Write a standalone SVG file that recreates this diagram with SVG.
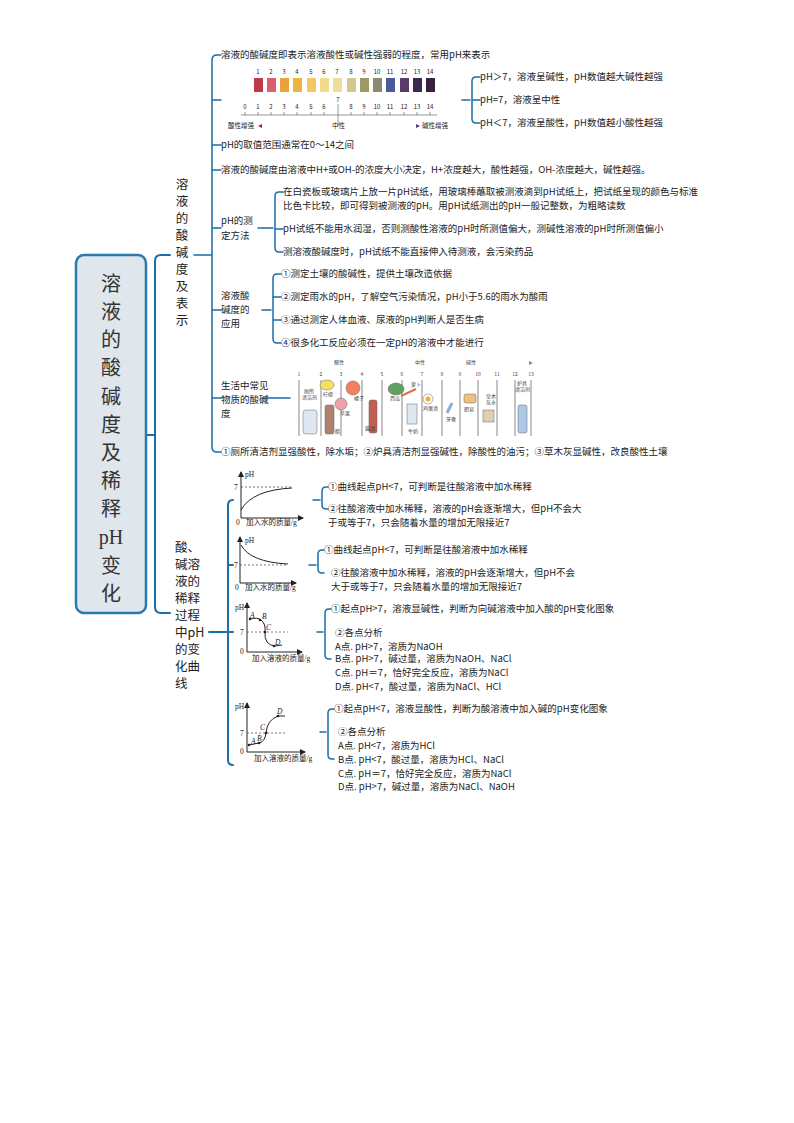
<svg xmlns="http://www.w3.org/2000/svg" width="794" height="1123" viewBox="0 0 794 1123">
<style>
text{font-family:"Noto Sans CJK SC","Liberation Sans",sans-serif;fill:#222;font-size:9.5px}
.b{fill:none;stroke:#1b6ea8;stroke-width:2;stroke-linecap:round}
.s{fill:none;stroke:#1b6ea8;stroke-width:1.5;stroke-linecap:round}
.ax{fill:none;stroke:#222;stroke-width:1}
.dash{stroke:#444;stroke-width:0.7;stroke-dasharray:2 2}
.g{font-family:"Liberation Serif","Noto Sans CJK SC",serif;font-size:7.5px}
.gi{font-family:"Liberation Serif",serif;font-size:7.5px;font-style:italic}
.t{font-size:5px;fill:#444}
.n6{font-size:6px}
.root{font-size:20px;fill:#333;text-anchor:middle}
.br{font-size:12.5px;fill:#222}
</style>
<defs>
<marker id="ar" markerWidth="6" markerHeight="6" refX="5" refY="3" orient="auto"><path d="M0,0L6,3L0,6z" fill="#222"/></marker>
<linearGradient id="rb" x1="0" x2="1"><stop offset="0" stop-color="#e86a50"/><stop offset="0.35" stop-color="#e8d060"/><stop offset="0.6" stop-color="#60b070"/><stop offset="1" stop-color="#9a70c0"/></linearGradient>
<linearGradient id="ab" x1="0" x2="1"><stop offset="0" stop-color="#a02030"/><stop offset="0.5" stop-color="#8080a0"/><stop offset="1" stop-color="#5a3a8a"/></linearGradient>
</defs>

<g id="connectors">
<path class="b" d="M146,435H155M170,255H161Q155,255 155,261V607Q155,613 161,613H170"/>
<path class="s" d="M194,255H212M221,55H217Q212,55 212,60V447Q212,452 217,452H221M212,100H221M212,145H221M212,170H221M212,228H221M212,310H221M212,398H221"/>
<path class="s" d="M462,100H470M480,77H476Q472,77 472,81V119Q472,123 476,123H480M472,100H480"/>
<path class="s" d="M258,228H273M283,192H279Q275,192 275,196V248Q275,252 279,252H283M275,229H283"/>
<path class="s" d="M262,310H271M281,274H277Q273,274 273,278V339Q273,343 277,343H281M273,297H281M273,320H281"/>
<path class="s" d="M262,398H290"/>
<path class="b" d="M209,632H228M233,500H233Q228,500 228,505V760Q228,765 233,765M228,565H233M228,632H233"/>
<path class="s" d="M313,500H320M328,487H326Q322,487 322,491V505Q322,509 326,509H328"/>
<path class="s" d="M309,565H316M324,550H322Q318,550 318,554V569Q318,573 322,573H324"/>
<path class="s" d="M317,632H323M331,609H329Q325,609 325,613V655Q325,659 329,659H331"/>
<path class="s" d="M320,732H326M334,709H332Q328,709 328,713V755Q328,759 332,759H334"/>
</g>

<g id="root">
<rect x="76" y="255" width="70" height="358" rx="8" fill="#dfe6ec" stroke="#2a7ab0" stroke-width="2.5"/>
<text class="root" x="111" y="291">溶</text>
<text class="root" x="111" y="319">液</text>
<text class="root" x="111" y="347">的</text>
<text class="root" x="111" y="375">酸</text>
<text class="root" x="111" y="404">碱</text>
<text class="root" x="111" y="432">度</text>
<text class="root" x="111" y="460">及</text>
<text class="root" x="111" y="488">稀</text>
<text class="root" x="111" y="516">释</text>
<text class="root" x="111" y="544" style="font-family:'Liberation Serif',serif">pH</text>
<text class="root" x="111" y="573">变</text>
<text class="root" x="111" y="601">化</text>
</g>

<g id="branch1">
<text class="br" x="182" y="189" text-anchor="middle">溶</text>
<text class="br" x="182" y="206" text-anchor="middle">液</text>
<text class="br" x="182" y="223" text-anchor="middle">的</text>
<text class="br" x="182" y="240" text-anchor="middle">酸</text>
<text class="br" x="182" y="257" text-anchor="middle">碱</text>
<text class="br" x="182" y="274" text-anchor="middle">度</text>
<text class="br" x="182" y="291" text-anchor="middle">及</text>
<text class="br" x="182" y="308" text-anchor="middle">表</text>
<text class="br" x="182" y="325" text-anchor="middle">示</text>
</g>

<g id="b1n1"><text x="221" y="58">溶液的酸碱度即表示溶液酸性或碱性强弱的程度，常用pH来表示</text></g>

<g id="b1scale">
<g text-anchor="middle">
<text class="n6" x="258" y="74">1</text><text class="n6" x="271" y="74">2</text><text class="n6" x="284" y="74">3</text><text class="n6" x="297" y="74">4</text><text class="n6" x="311" y="74">5</text><text class="n6" x="324" y="74">6</text><text class="n6" x="337" y="74">7</text><text class="n6" x="351" y="74">8</text><text class="n6" x="364" y="74">9</text><text class="n6" x="377" y="74">10</text><text class="n6" x="390" y="74">11</text><text class="n6" x="404" y="74">12</text><text class="n6" x="417" y="74">13</text><text class="n6" x="430" y="74">14</text>
</g>
<rect x="254" y="78" width="9" height="14" fill="#c0384a"/><rect x="267" y="78" width="9" height="14" fill="#d9606e"/><rect x="280" y="78" width="9" height="14" fill="#e9a23c"/><rect x="293" y="78" width="9" height="14" fill="#efb43a"/><rect x="307" y="78" width="9" height="14" fill="#f3c862"/><rect x="320" y="78" width="9" height="14" fill="#f6da8c"/><rect x="333" y="78" width="9" height="14" fill="#f1dc9a"/><rect x="347" y="78" width="9" height="14" fill="#d6c888"/><rect x="360" y="78" width="9" height="14" fill="#9c9a62"/><rect x="373" y="78" width="9" height="14" fill="#8a8a72"/><rect x="386" y="78" width="9" height="14" fill="#4a5a9a"/><rect x="400" y="78" width="9" height="14" fill="#5a3a68"/><rect x="413" y="78" width="9" height="14" fill="#3a2a50"/><rect x="426" y="78" width="9" height="14" fill="#3a2040"/>
<g text-anchor="middle">
<text class="n6" x="245" y="109">0</text><text class="n6" x="258" y="109">1</text><text class="n6" x="271" y="109">2</text><text class="n6" x="284" y="109">3</text><text class="n6" x="297" y="109">4</text><text class="n6" x="311" y="109">5</text><text class="n6" x="324" y="109">6</text><text class="n6" x="338" y="102">7</text><text class="n6" x="351" y="109">8</text><text class="n6" x="364" y="109">9</text><text class="n6" x="377" y="109">10</text><text class="n6" x="390" y="109">11</text><text class="n6" x="404" y="109">12</text><text class="n6" x="417" y="109">13</text><text class="n6" x="430" y="109">14</text>
</g>
<path d="M241,115H437M245,112V115M258,112V115M271,112V115M284,112V115M297,112V115M311,112V115M324,112V115M351,112V115M364,112V115M377,112V115M390,112V115M404,112V115M417,112V115M430,112V115M338,104V126" stroke="#555" stroke-width="0.6" fill="none"/>
<path d="M262,126H330M346,126H416" stroke="url(#ab)" stroke-width="1"/>
<path d="M262,124L258,126L262,128z" fill="#a02030"/><path d="M416,124L420,126L416,128z" fill="#5a3a8a"/>
<text x="228" y="128" style="font-size:6.5px">酸性增强</text><text x="332" y="128" style="font-size:6.5px">中性</text><text x="422" y="128" style="font-size:6.5px">碱性增强</text>
</g>
<g id="b1s1"><text x="480" y="80">pH＞7，溶液呈碱性，pH数值越大碱性越强</text></g>
<g id="b1s2"><text x="480" y="103">pH=7，溶液呈中性</text></g>
<g id="b1s3"><text x="480" y="126">pH＜7，溶液呈酸性，pH数值越小酸性越强</text></g>

<g id="b1n3"><text x="221" y="148">pH的取值范围通常在0～14之间</text></g>
<g id="b1n4"><text x="221" y="173">溶液的酸碱度由溶液中H+或OH-的浓度大小决定，H+浓度越大，酸性越强，OH-浓度越大，碱性越强。</text></g>

<g id="b1n5"><text x="221" y="224">pH的测</text><text x="221" y="239">定方法</text></g>
<g id="b1n5a"><text x="283" y="195">在白瓷板或玻璃片上放一片pH试纸，用玻璃棒蘸取被测液滴到pH试纸上，把试纸呈现的颜色与标准</text><text x="283" y="209">比色卡比较，即可得到被测液的pH。用pH试纸测出的pH一般记整数，为粗略读数</text></g>
<g id="b1n5b"><text x="283" y="232">pH试纸不能用水润湿，否则测酸性溶液的pH时所测值偏大，测碱性溶液的pH时所测值偏小</text></g>
<g id="b1n5c"><text x="283" y="255">测溶液酸碱度时，pH试纸不能直接伸入待测液，会污染药品</text></g>

<g id="b1n6"><text x="221" y="299">溶液酸</text><text x="221" y="313">碱度的</text><text x="221" y="327">应用</text></g>
<g id="b1n6a"><text x="281" y="277">①测定土壤的酸碱性，提供土壤改造依据</text></g>
<g id="b1n6b"><text x="281" y="300">②测定雨水的pH，了解空气污染情况，pH小于5.6的雨水为酸雨</text></g>
<g id="b1n6c"><text x="281" y="323">③通过测定人体血液、尿液的pH判断人是否生病</text></g>
<g id="b1n6d"><text x="281" y="346">④很多化工反应必须在一定pH的溶液中才能进行</text></g>

<g id="b1n7"><text x="221" y="389">生活中常见</text><text x="221" y="403">物质的酸碱</text><text x="221" y="417">度</text></g>
<g id="b1life">
<path d="M298,363H530" stroke="url(#rb)" stroke-width="1.5"/><path d="M529,361L533,363L529,365z" fill="#9a70c0"/>
<text x="334" y="364" class="t">酸性</text><text x="415" y="364" class="t">中性</text><text x="466" y="364" class="t">碱性</text>
<g text-anchor="middle"><text x="299" y="376" class="t">1</text><text x="321" y="376" class="t">2</text><text x="341" y="376" class="t">3</text><text x="362" y="376" class="t">4</text><text x="382" y="376" class="t">5</text><text x="402" y="376" class="t">6</text><text x="422" y="376" class="t">7</text><text x="442" y="376" class="t">8</text><text x="460" y="376" class="t">9</text><text x="478" y="376" class="t">10</text><text x="497" y="376" class="t">11</text><text x="515" y="376" class="t">12</text><text x="531" y="376" class="t">13</text></g>
<path d="M299,380V436M321,380V436M341,380V436M362,380V436M382,380V436M402,380V436M422,380V436M442,380V436M460,380V436M478,380V436M497,380V436M515,380V436M531,380V436" stroke="#555" stroke-width="0.7"/>
<rect x="303" y="410" width="14" height="24" rx="3" fill="#dfe8f0" stroke="#666" stroke-width="0.5"/>
<text x="304" y="393" class="t">厕所</text><text x="302" y="399" class="t">清洁剂</text>
<ellipse cx="327" cy="385" rx="7" ry="5" fill="#f5e060" stroke="#666" stroke-width="0.5"/><text x="323" y="396" class="t">柠檬</text>
<rect x="325" y="405" width="9" height="29" rx="2" fill="#b08070" stroke="#666" stroke-width="0.5"/>
<circle cx="353" cy="388" r="7" fill="#f08060" stroke="#666" stroke-width="0.5"/><text x="354" y="400" class="t">橘子</text>
<circle cx="341" cy="404" r="6" fill="#f0a0a8" stroke="#666" stroke-width="0.5"/><text x="340" y="415" class="t">苹果</text>
<text x="335" y="433" class="t">醋</text>
<rect x="369" y="400" width="8" height="33" rx="2" fill="#c06050" stroke="#666" stroke-width="0.5"/><text x="365" y="430" class="t">酱油</text>
<ellipse cx="396" cy="389" rx="8" ry="6" fill="#60a060" stroke="#666" stroke-width="0.5"/><text x="390" y="400" class="t">西瓜</text>
<path d="M401,396L416,389" stroke="#e07040" stroke-width="2"/><text x="411" y="386" class="t">萝卜</text>
<rect x="407" y="404" width="10" height="20" fill="#dfe8f0" stroke="#666" stroke-width="0.5"/><text x="408" y="433" class="t">牛奶</text>
<circle cx="428" cy="399" r="5" fill="#fff" stroke="#666" stroke-width="0.5"/><circle cx="428" cy="399" r="2.5" fill="#f0b030"/><text x="423" y="410" class="t">鸡蛋清</text>
<path d="M447,413L452,403" stroke="#8ab0d0" stroke-width="3"/><text x="446" y="421" class="t">牙膏</text>
<rect x="464" y="394" width="12" height="9" rx="2" fill="#f0c080" stroke="#666" stroke-width="0.5"/><text x="464" y="411" class="t">肥皂</text>
<text x="486" y="398" class="t">草木</text><text x="486" y="404" class="t">灰水</text>
<rect x="483" y="410" width="11" height="12" fill="#e0d0b0" stroke="#666" stroke-width="0.5"/>
<text x="517" y="385" class="t">炉具</text><text x="515" y="391" class="t">清洁剂</text>
<rect x="518" y="405" width="9" height="28" rx="2" fill="#b0c8e8" stroke="#666" stroke-width="0.5"/>
</g>

<g id="b1n8"><text x="221" y="455">①厕所清洁剂显强酸性，除水垢；②炉具清洁剂显强碱性，除酸性的油污；③草木灰显碱性，改良酸性土壤</text></g>

<g id="branch2">
<text class="br" x="175" y="552">酸、</text>
<text class="br" x="175" y="569">碱溶</text>
<text class="br" x="175" y="586">液的</text>
<text class="br" x="175" y="603">稀释</text>
<text class="br" x="175" y="620">过程</text>
<text class="br" x="175" y="637">中pH</text>
<text class="br" x="175" y="654">的变</text>
<text class="br" x="175" y="671">化曲</text>
<text class="br" x="175" y="688">线</text>
</g>

<g id="graph1">
<path class="ax" d="M241,518V472" marker-end="url(#ar)"/><path class="ax" d="M241,518H303" marker-end="url(#ar)"/>
<path class="dash" d="M241,487H293"/>
<path d="M241,510Q252,490 292,488" fill="none" stroke="#222" stroke-width="1"/>
<text x="245" y="477" class="g">pH</text><text x="234" y="490" class="g">7</text><text x="236" y="525" class="g">0</text><text x="246" y="525" class="g">加入水的质量/g</text>
</g>
<g id="g1a"><text x="328" y="490">①曲线起点pH&lt;7，可判断是往酸溶液中加水稀释</text></g>
<g id="g1b"><text x="328" y="512">②往酸溶液中加水稀释，溶液的pH会逐渐增大，但pH不会大</text><text x="328" y="526">于或等于7，只会随着水量的增加无限接近7</text></g>

<g id="graph2">
<path class="ax" d="M240,583V537" marker-end="url(#ar)"/><path class="ax" d="M240,583H296" marker-end="url(#ar)"/>
<path class="dash" d="M240,565H288"/>
<path d="M241,545Q250,562 288,564" fill="none" stroke="#222" stroke-width="1"/>
<text x="245" y="543" class="g">pH</text><text x="234" y="568" class="g">7</text><text x="235" y="590" class="g">0</text><text x="245" y="590" class="g">加入水的质量/g</text>
</g>
<g id="g2a"><text x="324" y="553">①曲线起点pH&lt;7，可判断是往酸溶液中加水稀释</text></g>
<g id="g2b"><text x="331" y="576">②往酸溶液中加水稀释，溶液的pH会逐渐增大，但pH不会</text><text x="331" y="590">大于或等于7，只会随着水量的增加无限接近7</text></g>

<g id="graph3">
<path class="ax" d="M247,652V603" marker-end="url(#ar)"/><path class="ax" d="M247,652H302" marker-end="url(#ar)"/>
<path class="dash" d="M247,632H288"/>
<path d="M250,619Q258,617 261,620Q266,624 265,632Q264,645 275,646L282,645" fill="none" stroke="#222" stroke-width="1"/>
<circle cx="250" cy="619" r="1.3" fill="#222"/><circle cx="260" cy="620" r="1.3" fill="#222"/><circle cx="265" cy="632" r="1.3" fill="#222"/><circle cx="274" cy="646" r="1.3" fill="#222"/>
<text x="235" y="610" class="g">pH</text><text x="250" y="618" class="gi">A</text><text x="262" y="619" class="gi">B</text><text x="266" y="630" class="gi">C</text><text x="275" y="645" class="gi">D</text><text x="240" y="635" class="g">7</text><text x="240" y="654" class="g">0</text><text x="252" y="661" class="g">加入溶液的质量/g</text>
</g>
<g id="g3a"><text x="331" y="612">①起点pH&gt;7，溶液显碱性，判断为向碱溶液中加入酸的pH变化图象</text></g>
<g id="g3b"><text x="335" y="636">②各点分析</text><text x="335" y="650">A点. pH&gt;7，溶质为NaOH</text><text x="335" y="662">B点. pH&gt;7，碱过量，溶质为NaOH、NaCl</text><text x="335" y="676">C点. pH＝7，恰好完全反应，溶质为NaCl</text><text x="335" y="690">D点. pH&lt;7，酸过量，溶质为NaCl、HCl</text></g>

<g id="graph4">
<path class="ax" d="M247,752V703" marker-end="url(#ar)"/><path class="ax" d="M247,752H305" marker-end="url(#ar)"/>
<path class="dash" d="M247,733H287"/>
<path d="M249,745L259,743Q265,742 266,733Q267,720 278,716L285,716" fill="none" stroke="#222" stroke-width="1"/>
<circle cx="249" cy="745" r="1.3" fill="#222"/><circle cx="259" cy="743" r="1.3" fill="#222"/><circle cx="266" cy="733" r="1.3" fill="#222"/><circle cx="278" cy="716" r="1.3" fill="#222"/>
<text x="235" y="709" class="g">pH</text><text x="251" y="744" class="gi">A</text><text x="257" y="741" class="gi">B</text><text x="260" y="730" class="gi">C</text><text x="277" y="714" class="gi">D</text><text x="240" y="736" class="g">7</text><text x="240" y="754" class="g">0</text><text x="254" y="761" class="g">加入溶液的质量/g</text>
</g>
<g id="g4a"><text x="334" y="712">①起点pH&lt;7，溶液显酸性，判断为酸溶液中加入碱的pH变化图象</text></g>
<g id="g4b"><text x="338" y="735">②各点分析</text><text x="338" y="749">A点. pH&lt;7，溶质为HCl</text><text x="338" y="763">B点. pH&lt;7，酸过量，溶质为HCl、NaCl</text><text x="338" y="777">C点. pH＝7，恰好完全反应，溶质为NaCl</text><text x="338" y="790">D点. pH&gt;7，碱过量，溶质为NaCl、NaOH</text></g>
</svg>
